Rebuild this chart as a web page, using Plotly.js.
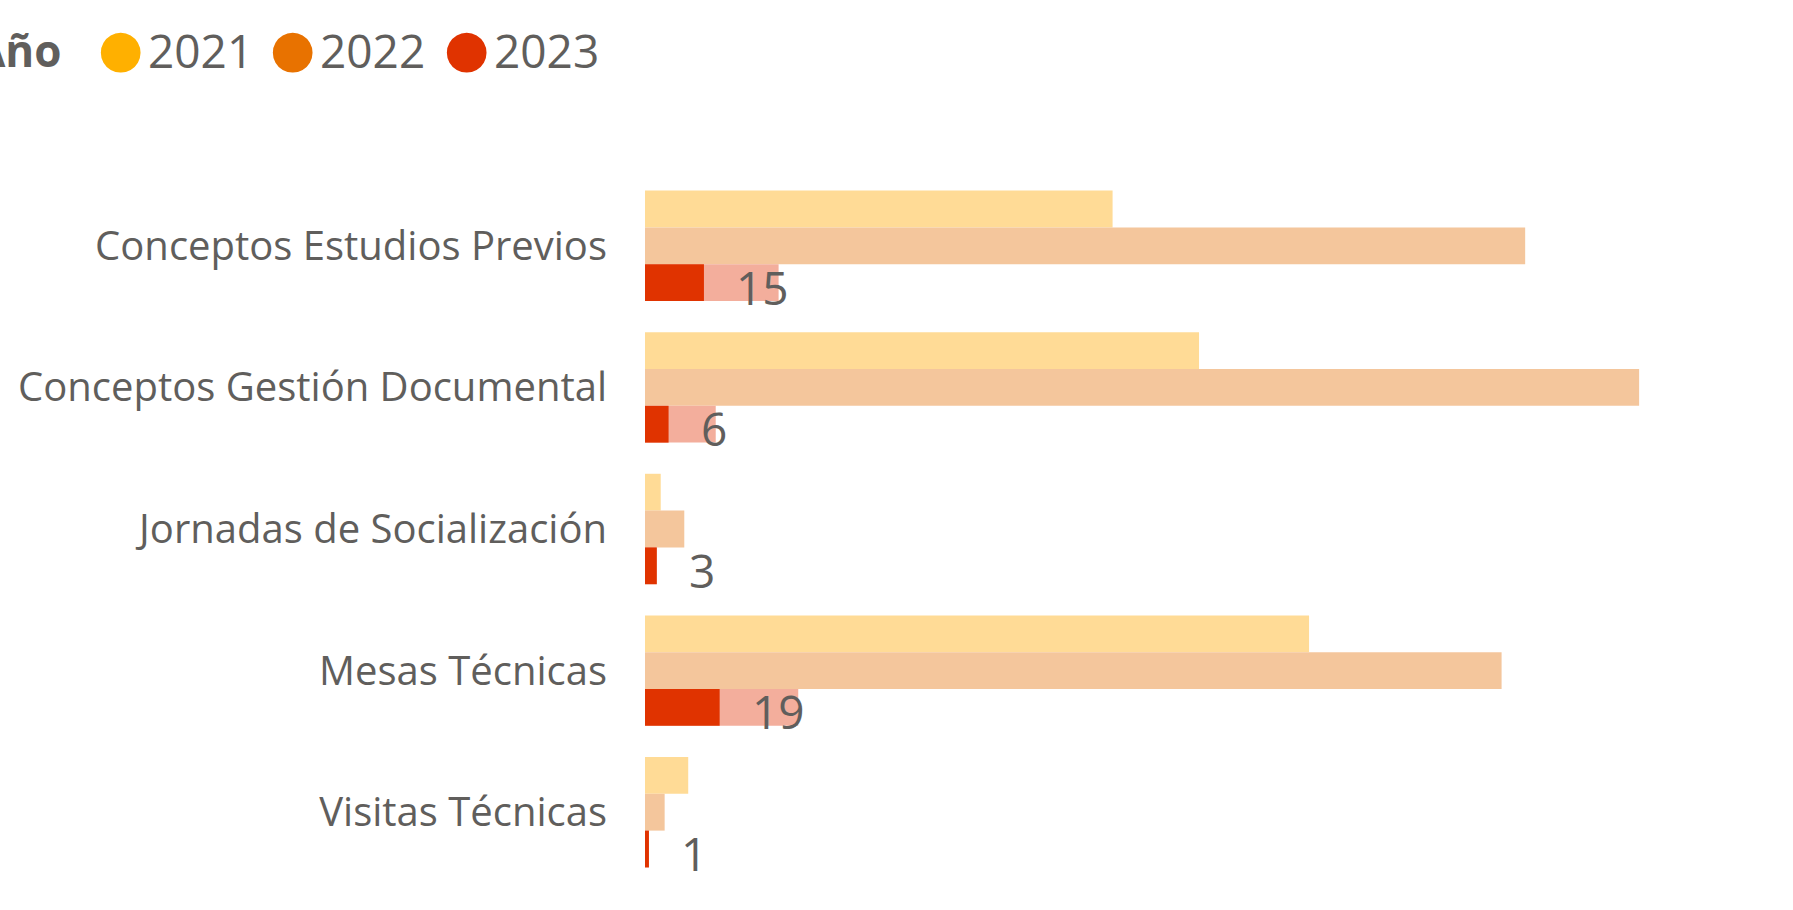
<!DOCTYPE html>
<html>
<head>
<meta charset="utf-8">
<script src="https://cdn.plot.ly/plotly-3.0.1.min.js"></script>
<style>
  html, body { margin: 0; padding: 0; background: #fff; }
  #chart { width: 1793px; height: 910px; }
</style>
</head>
<body>
<div id="chart"></div>
<script>
CHART = document.getElementById('chart');

// actividades por año (2023 con la parte resaltada)
var categorias = ['Conceptos Estudios Previos', 'Conceptos Gestión Documental',
    'Jornadas de Socialización', 'Mesas Técnicas', 'Visitas Técnicas'];
var anios = ['2021', '2022', '2023'];
var v2021 = [119, 141, 4, 169, 11];
var v2022 = [224, 253, 10, 218, 5];
var v2023 = [34, 18, 3, 39, 1];
var resaltado2023 = [15, 6, 3, 19, 1];

var colorLleno = ['#FFB000', '#E87200', '#E03300'];
var colorTenue = ['#FFDB96', '#F4C69C', '#F3AE9C'];

var GRIS = '#605E5C';
var FUENTE = '"Segoe UI", "Open Sans", sans-serif';

var ancho = 0.26;
var yIdx = categorias.map(function (c, i) { return i; });

function barras(valores, k, color) {
    return {
        type: 'bar',
        orientation: 'h',
        x: valores,
        y: yIdx,
        width: ancho,
        offset: (k - 1.5) * ancho,
        marker: {color: color, line: {width: 0}},
        hoverinfo: 'x',
        showlegend: false
    };
}

var data = [
    barras(v2021, 0, colorTenue[0]),
    barras(v2022, 1, colorTenue[1]),
    barras(v2023, 2, colorTenue[2]),
    barras(resaltado2023, 2, colorLleno[2])
];

// etiquetas de datos al final de la parte resaltada
var anotaciones = resaltado2023.map(function (v, i) {
    return {
        x: v, y: i + ancho, xref: 'x', yref: 'y',
        text: String(v), showarrow: false,
        xanchor: 'left', yanchor: 'middle',
        xshift: 30, yshift: -4,
        font: {family: FUENTE, size: 46, color: GRIS}
    };
});

// leyenda hecha a mano (circulos grandes)
var circX = [120, 292, 466];
var textoX = [146, 318, 492];
anotaciones.push({
    xref: 'paper', yref: 'paper', x: 0, y: 1,
    xshift: 64 - 645, yshift: 125,
    xanchor: 'right', yanchor: 'middle', showarrow: false,
    text: '<b>Año</b>', font: {family: FUENTE, size: 44, color: GRIS}
});
anios.forEach(function (a, k) {
    anotaciones.push({
        xref: 'paper', yref: 'paper', x: 0, y: 1,
        xshift: circX[k] - 645, yshift: 127,
        xanchor: 'center', yanchor: 'middle', showarrow: false,
        text: '●', font: {family: 'DejaVu Sans', size: 52, color: colorLleno[k]}
    });
    anotaciones.push({
        xref: 'paper', yref: 'paper', x: 0, y: 1,
        xshift: textoX[k] - 645, yshift: 125,
        xanchor: 'left', yanchor: 'middle', showarrow: false,
        text: a, font: {family: FUENTE, size: 46, color: GRIS}
    });
});

var layout = {
    barmode: 'overlay',
    paper_bgcolor: '#ffffff',
    plot_bgcolor: '#ffffff',
    margin: {t: 175, b: 27, l: 645, r: 36},
    font: {family: FUENTE, color: GRIS},
    showlegend: false,
    xaxis: {
        range: [0, 283],
        visible: false,
        showgrid: false,
        zeroline: false
    },
    yaxis: {
        range: [4.5, -0.5],
        tickmode: 'array',
        tickvals: yIdx,
        ticktext: categorias,
        showgrid: false,
        zeroline: false,
        showline: false,
        ticks: '',
        ticklabelstandoff: 37,
        tickfont: {family: FUENTE, size: 40, color: GRIS}
    },
    annotations: anotaciones
};

Plotly.newPlot(CHART, data, layout, {displayModeBar: false, responsive: false});
</script>
</body>
</html>
